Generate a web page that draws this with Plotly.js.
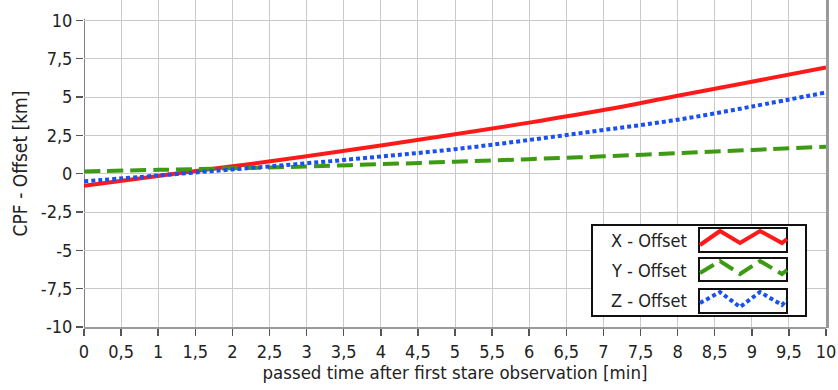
<!DOCTYPE html>
<html>
<head>
<meta charset="utf-8">
<script src="https://cdn.plot.ly/plotly-3.0.1.min.js"></script>
<style>
  html, body { margin: 0; padding: 0; background: #fff; }
  #chart { width: 838px; height: 390px; }
</style>
</head>
<body>
<div id="chart"></div>
<script>
// Offsets of the CPF orbit prediction against the observed positions
const minutes = [0, 1, 2, 3, 4, 5, 6, 7, 8, 9, 10];
const xOffset = [-0.78, -0.15, 0.48, 1.14, 1.84, 2.57, 3.33, 4.15, 5.08, 6.0, 6.93];
const yOffset = [0.15, 0.25, 0.35, 0.47, 0.62, 0.78, 0.95, 1.13, 1.34, 1.55, 1.76];
const zOffset = [-0.5, -0.12, 0.28, 0.68, 1.12, 1.6, 2.2, 2.85, 3.52, 4.38, 5.3];

const seriesNames = ['X - Offset', 'Y - Offset', 'Z - Offset'];
const xTickVals = [0, 0.5, 1, 1.5, 2, 2.5, 3, 3.5, 4, 4.5, 5, 5.5, 6, 6.5, 7, 7.5, 8, 8.5, 9, 9.5, 10];
const xTickText = ['0', '0,5', '1', '1,5', '2', '2,5', '3', '3,5', '4', '4,5', '5', '5,5', '6', '6,5', '7', '7,5', '8', '8,5', '9', '9,5', '10'];
const yTickVals = [-10, -7.5, -5, -2.5, 0, 2.5, 5, 7.5, 10];
const yTickText = ['-10', '-7,5', '-5', '-2,5', '0', '2,5', '5', '7,5', '10'];

const FONT = '"Liberation Sans Narrow", "DejaVu Sans Condensed", "Liberation Sans", sans-serif';
const RED = '#ff1a1a', GREEN = '#3c9b12', BLUE = '#1a50f0';

const styles = [
  { color: RED, width: 4, dash: 'solid' },
  { color: GREEN, width: 4, dash: '16px,7px' },
  { color: BLUE, width: 4, dash: '4px,3px' }
];
const values = [xOffset, yOffset, zOffset];

const traces = values.map((v, i) => ({
  x: minutes, y: v, type: 'scatter', mode: 'lines', name: seriesNames[i],
  line: { color: styles[i].color, width: styles[i].width, dash: styles[i].dash, shape: 'spline' },
  hoverinfo: 'x+y+name'
}));

// plot area geometry in page pixels (used to place the hand-drawn legend box)
const L = 84, R = 826, T = 0, B = 327;
const px = x => (x - L) / (R - L);
const py = y => (B - y) / (B - T);
const path = pts => pts.map((p, k) => (k ? 'L' : 'M') + px(p[0]).toFixed(5) + ',' + py(p[1]).toFixed(5)).join(' ');
const rect = (x0, y0, x1, y1, w) => ({
  type: 'rect', xref: 'paper', yref: 'paper', x0: px(x0), x1: px(x1), y0: py(y1), y1: py(y0),
  line: { color: '#111', width: w }, fillcolor: '#fff', layer: 'above'
});

const rows = [
  { box: [699, 228, 787, 252], zig: [[700,245],[720,231],[740,243],[760,231],[782,243],[787,239]], ty: 240 },
  { box: [699, 258, 787, 281], zig: [[700,273],[720,261],[740,274],[760,261],[782,274],[787,270]], ty: 270 },
  { box: [699, 289, 787, 313], zig: [[700,303],[720,292],[740,307],[760,292],[782,305],[787,300]], ty: 300 }
];

const shapes = [
  // left axis line
  { type: 'line', xref: 'x', yref: 'y', x0: 0, x1: 0, y0: -10, y1: 10.1, line: { color: '#555', width: 1.5 }, layer: 'below' },
  // right frame edge
  { type: 'line', xref: 'paper', yref: 'paper', x0: 1.002, x1: 1.002, y0: -0.003, y1: 1, line: { color: '#999', width: 3 }, layer: 'above' },
  rect(592, 225, 806, 316, 2)
];
rows.forEach((r, i) => {
  shapes.push(rect(r.box[0], r.box[1], r.box[2], r.box[3], 2));
  shapes.push({
    type: 'path', xref: 'paper', yref: 'paper', path: path(r.zig), layer: 'above',
    line: { color: styles[i].color, width: styles[i].width, dash: styles[i].dash }
  });
});

const annotations = rows.map((r, i) => ({
  xref: 'paper', yref: 'paper', x: px(649), y: py(r.ty), xanchor: 'center', yanchor: 'middle',
  text: seriesNames[i], showarrow: false, font: { family: FONT, size: 18, color: '#222' }
}));

const layout = {
  width: 838, height: 390,
  margin: { l: L, r: 838 - R, t: T, b: 390 - B },
  paper_bgcolor: '#fff', plot_bgcolor: '#fff',
  showlegend: false,
  font: { family: FONT, size: 18, color: '#222' },
  xaxis: {
    range: [0, 10], tickvals: xTickVals, ticktext: xTickText,
    showgrid: true, gridcolor: '#c9c9c9', gridwidth: 1, zeroline: false,
    showline: true, linecolor: '#9a9a9a', linewidth: 2,
    ticks: 'outside', ticklen: 7, tickcolor: '#555', tickwidth: 1.5,
    tickfont: { family: FONT, size: 18, color: '#222' },
    title: { text: 'passed time after first stare observation [min]', font: { family: FONT, size: 18.5, color: '#222' }, standoff: 5 }
  },
  yaxis: {
    range: [-10, 11.33], tickvals: yTickVals, ticktext: yTickText,
    showgrid: true, gridcolor: '#c9c9c9', gridwidth: 1, zeroline: false,
    showline: false,
    ticks: 'outside', ticklen: 7, tickcolor: '#555', tickwidth: 1.5,
    tickfont: { family: FONT, size: 18, color: '#222' },
    title: { text: 'CPF - Offset [km]', font: { family: FONT, size: 19, color: '#222' }, standoff: 8 }
  },
  shapes: shapes,
  annotations: annotations
};

Plotly.newPlot('chart', traces, layout, { displayModeBar: false, staticPlot: true });
</script>
</body>
</html>
